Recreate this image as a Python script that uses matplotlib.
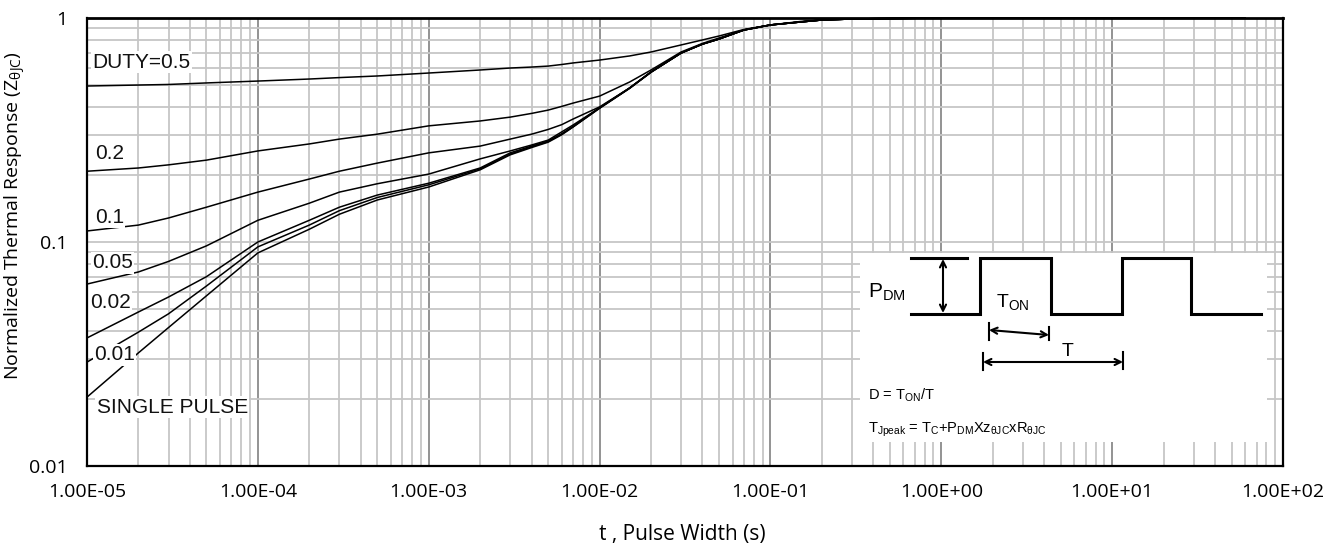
import matplotlib
matplotlib.use("Agg")
import matplotlib.pyplot as plt
from matplotlib.ticker import LogLocator, FixedLocator, FixedFormatter, NullFormatter

plt.rcParams['mathtext.default'] = 'regular'

# pulse width (s) and normalized Zth readings for each duty cycle
t = [1e-5, 2e-5, 3e-5, 5e-5, 1e-4, 2e-4, 3e-4, 5e-4, 1e-3, 2e-3, 3e-3, 4e-3, 5e-3, 6e-3, 7e-3, 1e-2,
     1.5e-2, 2e-2, 3e-2, 4e-2, 5e-2, 7e-2, 1e-1, 1.5e-1, 2e-1, 3e-1, 5e-1, 1, 60]

# above ~1.5e-2 the low-duty curves run together
tail = [0.487, 0.574, 0.698, 0.765, 0.806, 0.884, 0.931, 0.960, 0.980, 0.990, 0.995, 1.0, 1.0]

z_d05 = [0.497, 0.502, 0.505, 0.513, 0.523, 0.534, 0.542, 0.551, 0.568, 0.586, 0.598, 0.604, 0.610, 0.620,
         0.630, 0.649, 0.677, 0.705, 0.758, 0.798, 0.831, 0.889, 0.931, 0.965, 0.980, 0.990, 0.995, 1.0, 1.0]
z_d02 = [0.207, 0.214, 0.221, 0.232, 0.255, 0.274, 0.288, 0.303, 0.330, 0.347, 0.361, 0.375, 0.388, 0.403,
         0.417, 0.448, 0.518, 0.586, 0.705, 0.770, 0.814, 0.884, 0.931, 0.960, 0.980, 0.990, 0.995, 1.0, 1.0]
z_d01 = [0.112, 0.119, 0.128, 0.143, 0.167, 0.191, 0.207, 0.225, 0.250, 0.268, 0.288, 0.303, 0.318, 0.334,
         0.354, 0.401] + tail
z_d005 = [0.0649, 0.0735, 0.0819, 0.0961, 0.125, 0.149, 0.167, 0.182, 0.201, 0.235, 0.255, 0.271, 0.285,
          0.310, 0.333, 0.397] + tail
z_d002 = [0.0373, 0.0487, 0.0568, 0.0700, 0.100, 0.125, 0.143, 0.162, 0.183, 0.214, 0.250, 0.268, 0.282,
          0.304, 0.328, 0.397] + tail
z_d001 = [0.0291, 0.0396, 0.0478, 0.0636, 0.0951, 0.119, 0.138, 0.158, 0.180, 0.212, 0.247, 0.266, 0.281,
          0.303, 0.327, 0.397] + tail
z_single = [0.0203, 0.0320, 0.0415, 0.0575, 0.0894, 0.114, 0.133, 0.154, 0.176, 0.210, 0.245, 0.264, 0.279,
            0.301, 0.326, 0.395, 0.485, 0.572, 0.697, 0.764, 0.805, 0.884, 0.931, 0.960, 0.980, 0.990,
            0.995, 1.0, 1.0]

curves = [z_d05, z_d02, z_d01, z_d005, z_d002, z_d001, z_single]

# curve labels: text, t position, Z position
curve_labels = ["DUTY=0.5", "0.2", "0.1", "0.05", "0.02", "0.01", "SINGLE PULSE"]
label_t = [1.08e-5, 1.11e-5, 1.11e-5, 1.07e-5, 1.04e-5, 1.1e-5, 1.14e-5]
label_z = [0.636, 0.249, 0.129, 0.0807, 0.0539, 0.0314, 0.0183]

x_major = [1e-5, 1e-4, 1e-3, 1e-2, 1e-1, 1e0, 1e1, 1e2]
y_major = [0.01, 0.1, 1]
y_major_labels = ["0.01", "0.1", "1"]

W, H = 1338, 547
fig = plt.figure(figsize=(W / 100, H / 100), dpi=100)
ax = fig.add_axes([87 / W, 1 - 466 / H, (1283 - 87) / W, (466 - 18) / H])
ax.set_xscale('log')
ax.set_yscale('log')
ax.set_xlim(1e-5, 1e2)
ax.set_ylim(0.01, 1)

ax.xaxis.set_major_locator(FixedLocator(x_major))
ax.xaxis.set_major_formatter(FixedFormatter([f"{v:.2E}" for v in x_major]))
ax.xaxis.set_minor_locator(LogLocator(base=10, subs=range(2, 10), numticks=50))
ax.xaxis.set_minor_formatter(NullFormatter())
ax.yaxis.set_major_locator(FixedLocator(y_major))
ax.yaxis.set_major_formatter(FixedFormatter(y_major_labels))
ax.yaxis.set_minor_locator(LogLocator(base=10, subs=range(2, 10), numticks=50))
ax.yaxis.set_minor_formatter(NullFormatter())

ax.grid(which='minor', color='#c6c6c6', lw=1.3)
ax.grid(which='major', axis='y', color='#c6c6c6', lw=1.3)
ax.grid(which='major', axis='x', color='#8a8a8a', lw=1.3)
ax.set_axisbelow(True)

ax.tick_params(which='both', length=0)
ax.tick_params(axis='x', pad=12, labelsize=14)
ax.tick_params(axis='y', pad=14, labelsize=14)
for lab in ax.get_xticklabels() + ax.get_yticklabels():
    lab.set_fontfamily('Open Sans')

for s in ax.spines.values():
    s.set_color('black')
    s.set_linewidth(1.6)
    s.set_zorder(6)
ax.spines['top'].set_linewidth(2.0)

for z in curves:
    ax.plot(t, z, color='black', lw=1.1, zorder=3, solid_joinstyle='round', clip_on=False)

for txt, tx, tz in zip(curve_labels, label_t, label_z):
    ax.text(tx, tz, txt, ha='left', va='center', fontsize=15, family='Liberation Sans',
            color='#111111', zorder=5,
            bbox=dict(facecolor='white', edgecolor='none', pad=1.0))

ax.set_xlabel("t , Pulse Width (s)", family='Open Sans', fontsize=15)
ax.xaxis.set_label_coords(0.4975, -0.13)
ax.set_ylabel("Normalized Thermal Response (Z$_{θJC}$)", family='Open Sans', fontsize=14)
ax.yaxis.set_label_coords(-0.05, 0.56)

# inset with the pulse diagram, drawn in its own pixel-like frame
ins = fig.add_axes([860 / W, 1 - 442 / H, 407 / W, 189 / H])
ins.set_xlim(860, 1267)
ins.set_ylim(442, 253)
ins.set_facecolor('white')
ins.set_xticks([])
ins.set_yticks([])
for s in ins.spines.values():
    s.set_visible(False)

wave_x = [911, 980, 980, 1051, 1051, 1122, 1122, 1191, 1191, 1261]
wave_y = [314, 314, 258, 258, 314, 314, 258, 258, 314, 314]
ins.plot(wave_x, wave_y, color='black', lw=2.2, solid_joinstyle='miter')
ins.plot([911, 967], [258, 258], color='black', lw=2.2)

arrow = dict(arrowstyle='<->', color='black', lw=1.5, shrinkA=0, shrinkB=0, mutation_scale=11)
ins.annotate('', xy=(943, 259), xytext=(943, 313), arrowprops=arrow)
ins.annotate('', xy=(989, 330), xytext=(1049, 335), arrowprops=arrow)
ins.plot([989, 989], [323, 340], color='black', lw=1.5)
ins.plot([1049, 1049], [327, 340], color='black', lw=1.5)
ins.annotate('', xy=(983, 362), xytext=(1123, 362), arrowprops=arrow)
ins.plot([983, 983], [353, 370], color='black', lw=1.5)
ins.plot([1123, 1123], [352, 369], color='black', lw=1.5)

ins.text(868, 292, "P$_{DM}$", ha='left', va='center', fontsize=15, family='Liberation Sans')
ins.text(996, 302, "T$_{ON}$", ha='left', va='center', fontsize=14, family='Liberation Sans')
ins.text(1068, 351, "T", ha='center', va='center', fontsize=14, family='Liberation Sans')
ins.text(868, 395, "D = T$_{ON}$/T", ha='left', va='center', fontsize=10.5, family='Liberation Sans')
ins.text(868, 430, "T$_{Jpeak}$ = T$_{C}$+P$_{DM}$Xz$_{θJC}$xR$_{θJC}$", ha='left', va='center',
         fontsize=10.5, family='Liberation Sans')

fig.savefig("out.png", dpi=100)
